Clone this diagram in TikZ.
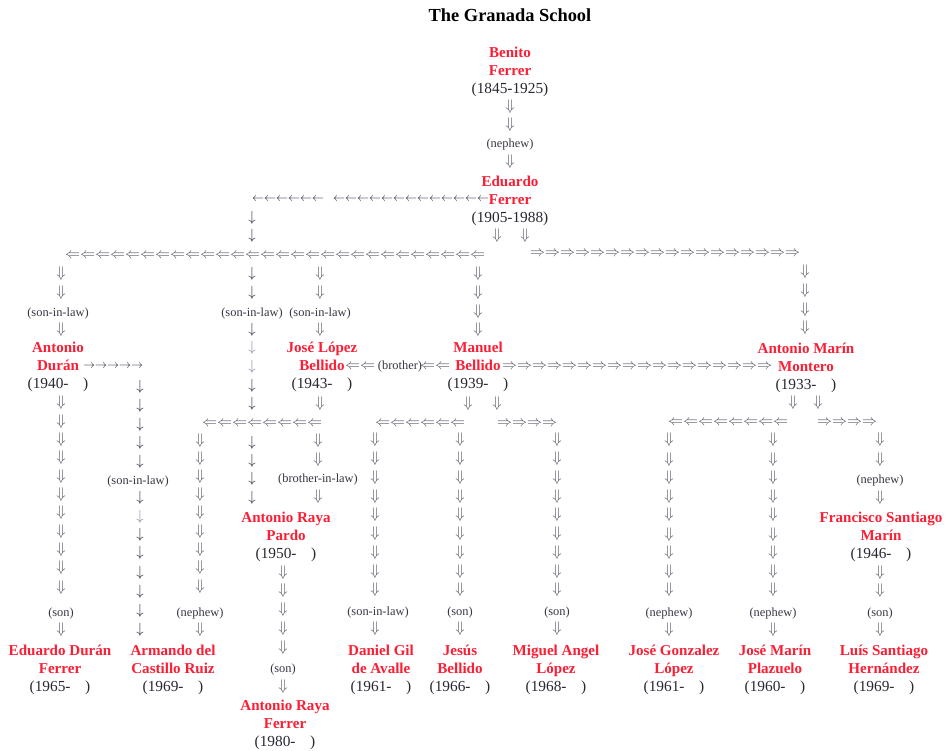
\documentclass[tikz,border=0pt]{standalone}
\usepackage{fontspec}
\setmainfont{Liberation Serif}
\definecolor{nmred}{RGB}{252,30,52}
\definecolor{yrgray}{RGB}{40,40,52}
\definecolor{lbgray}{RGB}{55,55,68}
\definecolor{argray}{RGB}{88,88,100}
\definecolor{sgcol}{RGB}{45,38,62}
\definecolor{sglight}{RGB}{140,132,162}
\newcommand\yrs[1]{(#1-\hspace{11pt})}
\newcommand\gD{\scalebox{1.15}{$\Downarrow$}}
\newcommand\gL{\scalebox{1.125}{$\Leftarrow$}}
\newcommand\gR{\scalebox{1.125}{$\Rightarrow$}}
\newcommand\gd{\scalebox{1.1}{$\downarrow$}}
\newcommand\gl{\scalebox{0.9}{$\leftarrow$}}
\newcommand\gr{\scalebox{0.9}{$\rightarrow$}}
\newcommand\person[6]{%
  \node[nm] (#1) at (#2,#3+5) {#4};
  \node[nm] (#1-b) at (#2,#3+23.5) {#5};
  \node[yr] (#1-y) at (#2,#3+41) {#6};
}
\tikzset{
  nm/.style={text=nmred, font=\fontsize{11.3}{13}\selectfont\bfseries, anchor=base, inner sep=0pt},
  yr/.style={text=yrgray, font=\fontsize{11.5}{13}\selectfont, anchor=base, inner sep=0pt},
  lb/.style={text=lbgray, font=\fontsize{9.3}{11}\selectfont, anchor=base, inner sep=0pt},
  dbl/.style={text=argray, font=\fontsize{10}{12}\selectfont, inner sep=0pt},
  sgl/.style={text=sgcol, font=\fontsize{10}{12}\selectfont, inner sep=0pt},
  sgll/.style={sgl, text=sglight},
  hs/.style={text=sgcol, font=\fontsize{10}{12}\selectfont, inner sep=0pt},
}
\begin{document}
\begin{tikzpicture}[x=0.75pt,y=-0.75pt]
\fill[white] (0,0) rectangle (946,750);
\useasboundingbox (0,0) rectangle (946,750);
\node[font=\fontsize{13.8}{16}\selectfont\bfseries, anchor=base, inner sep=0pt] (title) at (510,21) {The Granada School};

% Benito -> Eduardo
\person{benito}{510}{52}{Benito}{Ferrer}{(1845-1925)}
\foreach \y in {107,125,162} \node[dbl] (bd\y) at (510,\y) {\gD};
\node[lb] (lnephew0) at (510,147.5) {(nephew)};
\person{eduardo}{510}{181}{Eduardo}{Ferrer}{(1905-1988)}
\node[dbl] (edl) at (497,236) {\gD};
\node[dbl] (edr) at (525,236) {\gD};
\foreach \k in {0,...,5} \node[hs] (la\k) at ({258+12*\k},199) {\gl};
\foreach \k in {0,...,12} \node[hs] (lz\k) at ({339+12*\k},199) {\gl};

% main rows
\foreach \k in {0,...,27} \node[dbl] (m\k) at ({72.5+15*\k},256) {\gL};
\foreach \k in {0,...,17} \node[dbl] (r\k) at ({537.5+15*\k},254) {\gR};

% single-arrow column x=252
\foreach \y in {218,236,274,293,330,386,404,443,461,479,498} \node[sgl] (va\y) at (252,\y) {\gd};
\foreach \y in {348,367} \node[sgll] (vl\y) at (252,\y) {\gd};
\node[lb] (lsil2) at (252,316.5) {(son-in-law)};

% Duran column
\foreach \y in {274,293,330,403,422,440,458,477,495,513,532,550,568,588,630} \node[dbl] (da\y) at (61,\y) {\gD};
\node[lb] (lsil1) at (58,316.5) {(son-in-law)};
\node[lb] (lson1) at (61,616.5) {(son)};
\person{duran}{58}{347}{Antonio}{Durán}{\yrs{1940}}
\foreach \k in {0,...,4} \node[hs] (ra\k) at ({89+12*\k},366) {\gr};
\person{edduran}{60}{650}{Eduardo Durán}{Ferrer}{\yrs{1965}}

% single-arrow column x=140
\foreach \y in {387,406,425,443,462,498,535,553,573,592,611,630} \node[sgl] (vb\y) at (140,\y) {\gd};
\node[sgll] (vbl) at (140,517) {\gd};
\node[lb] (lsil4) at (138,484.5) {(son-in-law)};

% Jose Lopez column
\foreach \y in {274,293,330,404} \node[dbl] (dl\y) at (320,\y) {\gD};
\node[lb] (lsil3) at (320,316.5) {(son-in-law)};
\person{lopez}{322}{347}{José López}{Bellido}{\yrs{1943}}
\foreach \x in {352.5,367.5,427.5,442.5} \node[dbl] (br\x) at (\x,367) {\gL};
\node[lb] (lbro) at (400,369.5) {(brother)};

% left group
\foreach \k in {0,...,7} \node[dbl] (lg\k) at ({209.5+15*\k},424) {\gL};
\foreach \y in {441,460,497} \node[dbl] (bl\y) at (318,\y) {\gD};
\node[lb] (lbil) at (318,482.5) {(brother-in-law)};
\person{raya}{286}{517}{Antonio Raya}{Pardo}{\yrs{1950}}
\foreach \y in {573,591,610,629,648,687} \node[dbl] (rd\y) at (283,\y) {\gD};
\node[lb] (lson2) at (283,672.5) {(son)};
\person{rayaf}{285}{705}{Antonio Raya}{Ferrer}{\yrs{1980}}
\foreach \y in {441,459,477,495,513,532,550,568,587,630} \node[dbl] (ne\y) at (200,\y) {\gD};
\node[lb] (lnep1) at (200,616.5) {(nephew)};
\person{armando}{173}{650}{Armando del}{Castillo Ruiz}{\yrs{1969}}

% Manuel
\foreach \y in {274,293,312,330} \node[dbl] (mc\y) at (478,\y) {\gD};
\person{manuel}{478}{347}{Manuel}{Bellido}{\yrs{1939}}
\foreach \k in {0,...,17} \node[dbl] (mm\k) at ({509.5+15*\k},367) {\gR};
\node[dbl] (mdl) at (468,404) {\gD};
\node[dbl] (mdr) at (497,404) {\gD};
\foreach \k in {0,...,5} \node[dbl] (mg\k) at ({382.5+15*\k},424) {\gL};
\foreach \k in {0,...,3} \node[dbl] (mr\k) at ({504.5+15*\k},424) {\gR};
\foreach \x in {375,460,557} \foreach \y in {440,459,478,497,515,534,553,572,590,629} \node[dbl] (mx\x-\y) at (\x,\y) {\gD};
\node[lb] (lsil5) at (378,615.5) {(son-in-law)};
\node[lb] (lson3) at (460,615.5) {(son)};
\node[lb] (lson4) at (557,615.5) {(son)};
\person{daniel}{381}{650}{Daniel Gil}{de Avalle}{\yrs{1961}}
\person{jesus}{460}{650}{Jesús}{Bellido}{\yrs{1966}}
\person{miguel}{556}{650}{Miguel Angel}{López}{\yrs{1968}}

% Marin
\foreach \y in {272,291,310,328} \node[dbl] (am\y) at (805,\y) {\gD};
\person{marin}{806}{348}{Antonio Marín}{Montero}{\yrs{1933}}
\node[dbl] (adl) at (793,403) {\gD};
\node[dbl] (adr) at (818,403) {\gD};
\foreach \k in {0,...,7} \node[dbl] (ag\k) at ({675.5+15*\k},423) {\gL};
\foreach \k in {0,...,3} \node[dbl] (ar\k) at ({824.5+15*\k},423) {\gR};
\foreach \x in {669,773} \foreach \y in {440,460,478,497,515,535,553,572,590,630} \node[dbl] (ax\x-\y) at (\x,\y) {\gD};
\node[lb] (lnep2) at (669,616.5) {(nephew)};
\node[lb] (lnep3) at (773,616.5) {(nephew)};
\person{gonzalez}{674}{650}{José Gonzalez}{López}{\yrs{1961}}
\person{jmarin}{775}{650}{José Marín}{Plazuelo}{\yrs{1960}}
\foreach \y in {440,460,498,573,591,630} \node[dbl] (fx\y) at (880,\y) {\gD};
\node[lb] (lnep4) at (880,483.5) {(nephew)};
\node[lb] (lson5) at (880,616.5) {(son)};
\person{francisco}{881}{517}{Francisco Santiago}{Marín}{\yrs{1946}}
\person{luis}{884}{650}{Luís Santiago}{Hernández}{\yrs{1969}}
\end{tikzpicture}
\end{document}
